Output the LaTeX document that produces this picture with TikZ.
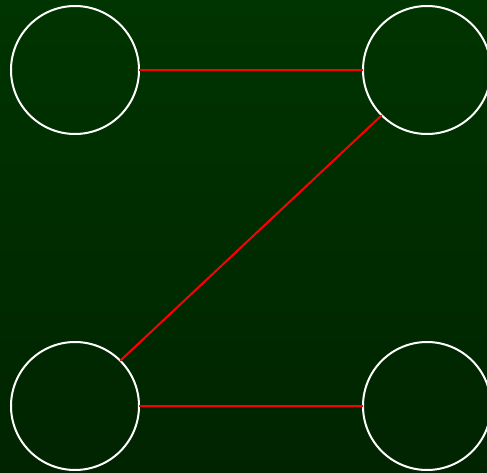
\documentclass[tikz,border=0pt]{standalone}
\begin{document}
\begin{tikzpicture}[x=1pt,y=-1pt,
  ball/.style={circle,draw=white,line width=2pt,minimum size=128pt,inner sep=0pt,outer sep=0pt},
  link/.style={draw=red,line width=2pt}]
\useasboundingbox (0,0) rectangle (487,473);
\shade[top color={rgb,255:red,0;green,52;blue,0},bottom color={rgb,255:red,0;green,36;blue,0}] (0,0) rectangle (487,473);
\begin{scope}
\clip (0,0) rectangle (487,473);
\node[ball] (tl) at (75,70) {};
\node[ball] (tr) at (427,70) {};
\node[ball] (bl) at (75,406) {};
\node[ball] (br) at (427,406) {};
\draw[link] (tl) -- (tr);
\draw[link] (bl.north east) -- (tr.south west);
\draw[link] (bl) -- (br);
\end{scope}
\end{tikzpicture}
\end{document}
